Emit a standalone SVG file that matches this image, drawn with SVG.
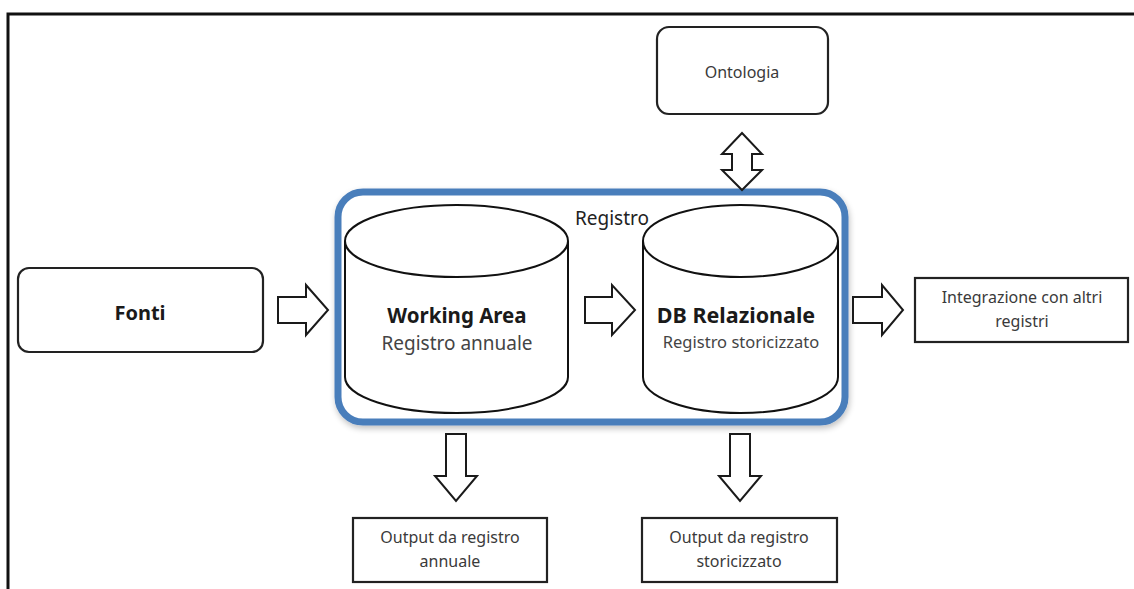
<svg xmlns="http://www.w3.org/2000/svg" width="1134" height="589" viewBox="0 0 1134 589">
<style>
.box{fill:#fff;stroke:#222;stroke-width:2.2}
.cyl{fill:#fff;stroke:#111;stroke-width:2}
.arr{fill:#fff;stroke:#1a1a1a;stroke-width:2;stroke-linejoin:miter}
.t{font-family:"Noto Sans","Open Sans",sans-serif;fill:#3a3a3a;text-anchor:middle}
.b{font-family:"Noto Sans","Open Sans",sans-serif;font-weight:bold;fill:#1a1a1a;text-anchor:middle}
</style>
<defs>
<filter id="sh" x="-10%" y="-10%" width="120%" height="130%">
<feGaussianBlur in="SourceAlpha" stdDeviation="3"/>
<feOffset dx="1" dy="3"/>
<feComponentTransfer><feFuncA type="linear" slope="0.25"/></feComponentTransfer>
<feMerge><feMergeNode/><feMergeNode in="SourceGraphic"/></feMerge>
</filter>
</defs>
<rect width="1134" height="589" fill="#fff"/>
<path d="M8,589 V14 H1134" fill="none" stroke="#111" stroke-width="3"/>

<g id="registro">
<rect x="338" y="192" width="507" height="230" rx="25" fill="#fff" stroke="#4a7ebb" stroke-width="7" filter="url(#sh)"/>
<text class="t" x="612" y="225" font-size="19" style="fill:#222">Registro</text>
</g>

<g id="fonti">
<rect class="box" x="18" y="268" width="245" height="84" rx="11"/>
<text class="b" x="140" y="320" font-size="20">Fonti</text>
</g>

<g id="ontologia">
<rect class="box" x="657" y="27" width="171" height="87" rx="12"/>
<text class="t" x="742" y="78" font-size="16">Ontologia</text>
</g>

<g id="working-area">
<path class="cyl" d="M345,241 V377 A111.5,36 0 0 0 568,377 V241"/>
<ellipse class="cyl" cx="456.5" cy="241" rx="111.5" ry="36"/>
<text class="b" x="457" y="323" font-size="20.5">Working Area</text>
<text class="t" x="457" y="350" font-size="19" style="fill:#444">Registro annuale</text>
</g>

<g id="db-relazionale">
<path class="cyl" d="M643,241 V377 A97.5,36 0 0 0 838,377 V241"/>
<ellipse class="cyl" cx="740.5" cy="241" rx="97.5" ry="36"/>
<text class="b" x="736" y="323" font-size="21.5">DB Relazionale</text>
<text class="t" x="741" y="348" font-size="16.5" style="fill:#444">Registro storicizzato</text>
</g>

<g id="integrazione">
<rect class="box" x="915" y="278" width="213" height="64"/>
<text class="t" x="1022" y="303" font-size="16">Integrazione con altri</text>
<text class="t" x="1022" y="327" font-size="16">registri</text>
</g>

<g id="output-annuale">
<rect class="box" x="353" y="518" width="194" height="64"/>
<text class="t" x="450" y="543" font-size="16">Output da registro</text>
<text class="t" x="450" y="567" font-size="16">annuale</text>
</g>

<g id="output-storicizzato">
<rect class="box" x="642" y="518" width="195" height="64"/>
<text class="t" x="739" y="543" font-size="16">Output da registro</text>
<text class="t" x="739" y="567" font-size="16">storicizzato</text>
</g>

<g id="connectors">
<polygon class="arr" points="278,297 306,297 306,285 328,310 306,335 306,323 278,323"/>
<polygon class="arr" points="585,297 612,297 612,285 635,310 612,335 612,323 585,323"/>
<polygon class="arr" points="853,297 882,297 882,285 903,310 882,335 882,323 853,323"/>
<polygon class="arr" points="742,133 762,154 752,154 752,170 762,170 742,190 722,170 732,170 732,154 722,154"/>
<polygon class="arr" points="446,434 466,434 466,476 477,476 456,501 435,476 446,476"/>
<polygon class="arr" points="730,434 750,434 750,476 761,476 740,501 719,476 730,476"/>
</g>
</svg>
